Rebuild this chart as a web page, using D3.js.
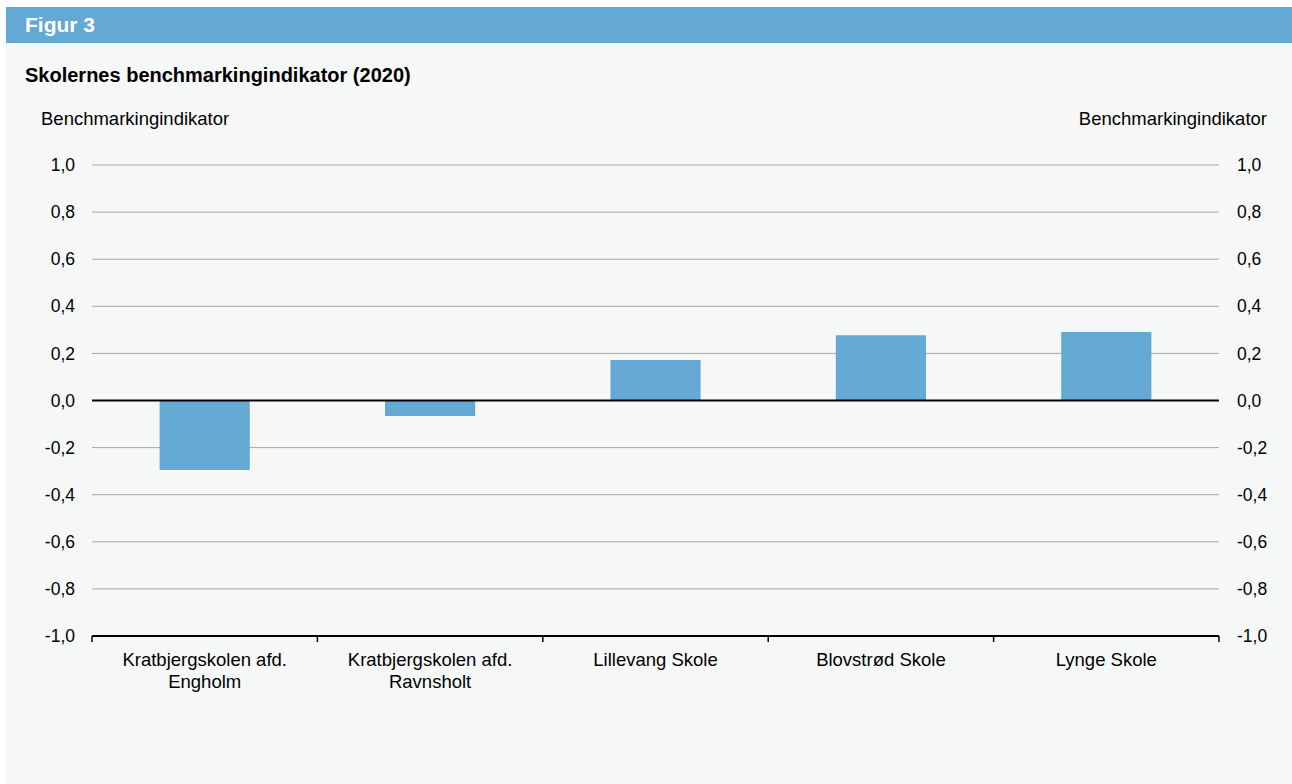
<!DOCTYPE html>
<html><head><meta charset="utf-8">
<script src="https://cdn.jsdelivr.net/npm/d3@7"></script>
<style>
body{margin:0;background:#fff;}
svg{display:block;font-family:"Liberation Sans",Arial,sans-serif;}
</style></head>
<body>
<svg id="c" width="1292" height="784"></svg>
<script>
const categories = [["Kratbjergskolen afd.","Engholm"],["Kratbjergskolen afd.","Ravnsholt"],["Lillevang Skole"],["Blovstrød Skole"],["Lynge Skole"]];
const values = [-0.295, -0.066, 0.172, 0.277, 0.291];
const yTicks = [-1,-0.8,-0.6,-0.4,-0.2,0,0.2,0.4,0.6,0.8,1];
const fmt = v => d3.format(".1f")(v).replace(".", ",").replace("−","-");

const svg = d3.select("#c");
svg.append("rect").attr("x",6).attr("y",7).attr("width",1286).attr("height",777).attr("fill","#f6f8f8");
svg.append("rect").attr("x",6).attr("y",7).attr("width",1286).attr("height",36).attr("fill","#63a9d3");
svg.append("text").attr("x",25).attr("y",32).attr("fill","#fff").attr("font-weight","bold").attr("font-size",21).text("Figur 3");
svg.append("text").attr("x",25).attr("y",82).attr("fill","#000").attr("font-weight","bold").attr("font-size",20).text("Skolernes benchmarkingindikator (2020)");
svg.append("text").attr("x",41).attr("y",124.5).attr("font-size",18.5).text("Benchmarkingindikator");
svg.append("text").attr("x",1267).attr("y",124.5).attr("font-size",18.5).attr("text-anchor","end").text("Benchmarkingindikator");

const L=92,R=1219,T=165,B=636;
const x = d3.scaleBand().domain(d3.range(categories.length)).range([L,R]).paddingInner(0.6).paddingOuter(0.3);
const xb = d3.scaleBand().domain(d3.range(categories.length)).range([L,R]);
const y = d3.scaleLinear().domain([-1,1]).range([B,T]);

// gridlines
svg.append("g").selectAll("line").data(yTicks.filter(v=>v!==-1 && v!==0)).join("line")
 .attr("x1",L).attr("x2",R).attr("y1",d=>y(d)).attr("y2",d=>y(d)).attr("stroke","#a6a6a6").attr("stroke-width",1);

// axis labels
svg.append("g").attr("transform",`translate(${L},0)`).call(d3.axisLeft(y).tickValues(yTicks).tickFormat(fmt).tickSize(0).tickPadding(17))
 .call(g=>g.select(".domain").remove())
 .call(g=>g.selectAll("text").attr("font-size",17.5).attr("fill","#000").attr("font-family","Liberation Sans, Arial, sans-serif"));
svg.append("g").attr("transform",`translate(${R},0)`).call(d3.axisRight(y).tickValues(yTicks).tickFormat(fmt).tickSize(0).tickPadding(18))
 .call(g=>g.select(".domain").remove())
 .call(g=>g.selectAll("text").attr("font-size",17.5).attr("fill","#000").attr("font-family","Liberation Sans, Arial, sans-serif"));

// bars
svg.append("g").selectAll("rect").data(values).join("rect")
 .attr("x",(d,i)=>x(i)).attr("width",x.bandwidth())
 .attr("y",d=>y(Math.max(0,d))).attr("height",d=>Math.abs(y(d)-y(0)))
 .attr("fill","#63a9d4");

// zero line
svg.append("line").attr("x1",L).attr("x2",R).attr("y1",y(0)).attr("y2",y(0)).attr("stroke","#000").attr("stroke-width",2);

// bottom axis
svg.append("line").attr("x1",L).attr("x2",R).attr("y1",B).attr("y2",B).attr("stroke","#000").attr("stroke-width",2);
const bounds = d3.range(categories.length+1).map(i=> i<categories.length ? xb(i) : R);
svg.append("g").selectAll("line").data(bounds).join("line")
 .attr("x1",d=>d).attr("x2",d=>d).attr("y1",B).attr("y2",B+6).attr("stroke","#000").attr("stroke-width",1.5);

const lab = svg.append("g").selectAll("text").data(categories).join("text")
 .attr("x",(d,i)=>xb(i)+xb.bandwidth()/2).attr("y",665.5).attr("text-anchor","middle").attr("font-size",18.5);
lab.selectAll("tspan").data(d=>d).join("tspan")
 .attr("x",function(){return this.parentNode.getAttribute("x");}).attr("dy",(d,i)=>i===0?0:22).text(d=>d);
</script>
</body></html>
